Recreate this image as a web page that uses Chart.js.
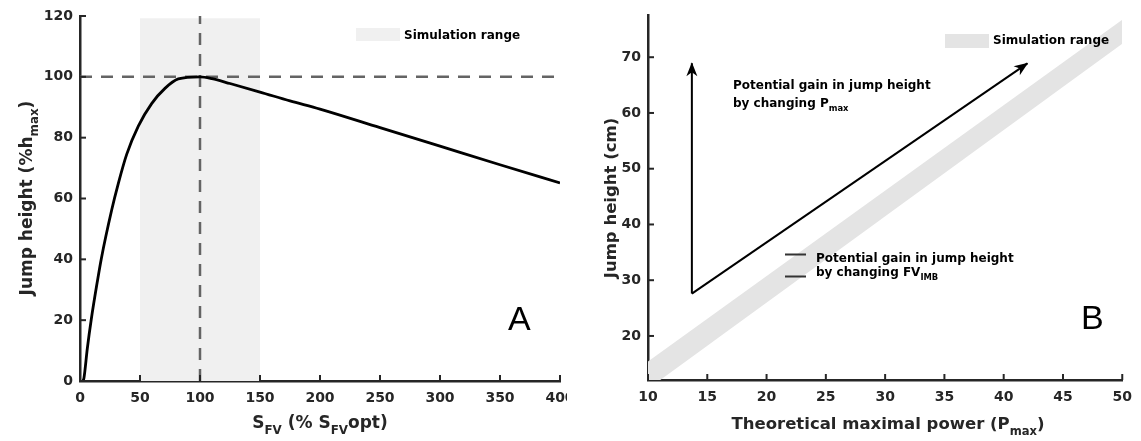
<!DOCTYPE html>
<html>
<head>
<meta charset="utf-8">
<script src="https://cdn.jsdelivr.net/npm/chart.js@4.4.1/dist/chart.umd.min.js"></script>
<style>
  body { margin: 0; background: #fff; width: 1141px; height: 441px; overflow: hidden; position: relative; }
  #boxA { position: absolute; left: 0; top: 0; }
  #boxB { position: absolute; left: 567px; top: 0; background: #fff; }
</style>
</head>
<body>
<div id="boxA"><canvas id="chartA" width="600" height="441"></canvas></div>
<div id="boxB"><canvas id="chartB" width="574" height="441"></canvas></div>
<script>
// ---- panel A: jump height vs S_FV ----
const sfvX    = [2.5, 3.3, 6.1, 9.4, 14.4, 17.8, 26.4, 31.9, 38.9, 48.6, 59.7, 70.8, 81.9, 100, 110, 125, 150, 175, 200, 250, 300, 350, 400];
const jumpPct = [0,   1,   10.7, 20.3, 32.6, 40.3, 56.2, 64.9, 74.5, 83.8, 91.2, 96.2, 99.3, 100, 99.4, 97.8, 95.0, 92.1, 89.4, 83.3, 77.2, 71.1, 65.1];
const simRangeA = [50, 150];
const simTopA = 119.3;
const optimumX = 100;
const hmaxPct = 100;
const xTicksA = [0, 50, 100, 150, 200, 250, 300, 350, 400];
const yTicksA = [0, 20, 40, 60, 80, 100, 120];

// ---- panel B: jump height vs Pmax ----
const bandX    = [10, 50];
const bandLow  = [10.5, 72.4];
const bandHigh = [15.4, 76.7];
const startPt  = [13.7, 27.6];
const pmaxArrowEnd = [13.7, 68.9];
const fvArrowEnd   = [42.0, 68.9];
const xTicksB = [10, 15, 20, 25, 30, 35, 40, 45, 50];
const yTicksB = [20, 30, 40, 50, 60, 70];

const FONT = "'DejaVu Sans', sans-serif";
const AXIS = '#262626';
Chart.defaults.font.family = FONT;

function richText(ctx, segs, x, y, size, align, color) {
    ctx.save();
    ctx.fillStyle = color || '#000';
    ctx.textBaseline = 'alphabetic';
    ctx.textAlign = 'left';
    const font = s => `bold ${s}px ${FONT}`;
    let w = 0;
    segs.forEach(([t, sub]) => { ctx.font = font(sub ? size * 0.7 : size); w += ctx.measureText(t).width; });
    let cx = align === 'center' ? x - w / 2 : x;
    segs.forEach(([t, sub]) => {
        ctx.font = font(sub ? size * 0.7 : size);
        ctx.fillText(t, cx, y + (sub ? size * 0.35 : 0));
        cx += ctx.measureText(t).width;
    });
    ctx.restore();
}

function vertText(ctx, segs, x, y, size) {
    ctx.save();
    ctx.translate(x, y);
    ctx.rotate(-Math.PI / 2);
    richText(ctx, segs, 0, 0, size, 'center', AXIS);
    ctx.restore();
}

// matlab-style ticks pointing into the plot
const innerTicks = {
    id: 'innerTicks',
    afterDraw(chart) {
        const ctx = chart.ctx;
        const {x, y} = chart.scales;
        ctx.save();
        ctx.strokeStyle = AXIS;
        ctx.lineWidth = 2;
        x.ticks.forEach(t => {
            const px = x.getPixelForValue(t.value);
            ctx.beginPath(); ctx.moveTo(px, x.top); ctx.lineTo(px, x.top - 6); ctx.stroke();
        });
        y.ticks.forEach(t => {
            const py = y.getPixelForValue(t.value);
            ctx.beginPath(); ctx.moveTo(y.right, py); ctx.lineTo(y.right + 6, py); ctx.stroke();
        });
        ctx.restore();
    }
};

const arrowHeads = {
    id: 'arrowHeads',
    afterDatasetsDraw(chart) {
        const ctx = chart.ctx;
        chart.data.datasets.forEach((ds, i) => {
            if (!ds.arrow) return;
            const pts = chart.getDatasetMeta(i).data;
            const a = pts[pts.length - 2], b = pts[pts.length - 1];
            const ang = Math.atan2(b.y - a.y, b.x - a.x);
            ctx.save();
            ctx.translate(b.x, b.y);
            ctx.rotate(ang);
            ctx.beginPath();
            ctx.moveTo(1, 0);
            ctx.lineTo(-13, -5.5);
            ctx.lineTo(-9, 0);
            ctx.lineTo(-13, 5.5);
            ctx.closePath();
            ctx.fillStyle = ds.borderColor;
            ctx.fill();
            ctx.restore();
        });
    }
};

function axisOpts(min, max, ticks, pos, size) {
    return {
        type: 'linear',
        position: pos,
        min: min, max: max,
        afterBuildTicks: s => { s.ticks = ticks.map(v => ({value: v})); },
        afterFit: s => { if (pos === 'left') s.width = size; else s.height = size; },
        grid: {display: false, drawTicks: false},
        border: {display: true, color: AXIS, width: 2.5},
        ticks: {
            color: AXIS,
            padding: pos === 'left' ? 7 : 9,
            maxRotation: 0,
            autoSkip: false,
            font: {family: FONT, weight: 'bold', size: 14}
        }
    };
}

const textA = {
    id: 'textA',
    afterDraw(chart) {
        const ctx = chart.ctx;
        richText(ctx, [['S', 0], ['FV', 1], [' (% S', 0], ['FV', 1], ['opt)', 0]], 320, 428, 17, 'center', AXIS);
        vertText(ctx, [['Jump height (%h', 0], ['max', 1], [')', 0]], 32, 198, 17);
        ctx.fillStyle = '#f0f0f0';
        ctx.fillRect(356, 28, 44, 13);
        richText(ctx, [['Simulation range', 0]], 404, 39, 12, 'left', '#000');
        ctx.save();
        ctx.fillStyle = '#000';
        ctx.font = `34px 'Liberation Sans', sans-serif`;
        ctx.fillText('A', 508, 330);
        ctx.restore();
    }
};

const textB = {
    id: 'textB',
    afterDraw(chart) {
        const ctx = chart.ctx;
        const ox = 567;
        richText(ctx, [['Theoretical maximal power (P', 0], ['max', 1], [')', 0]], 888 - ox, 429, 16.5, 'center', AXIS);
        vertText(ctx, [['Jump height (cm)', 0]], 616 - ox, 198, 16.5);
        ctx.fillStyle = '#e4e4e4';
        ctx.fillRect(945 - ox, 34, 44, 14);
        richText(ctx, [['Simulation range', 0]], 993 - ox, 44, 12, 'left', '#000');
        richText(ctx, [['Potential gain in jump height', 0]], 733 - ox, 89, 12, 'left', '#000');
        richText(ctx, [['by changing P', 0], ['max', 1]], 733 - ox, 107, 12, 'left', '#000');
        ctx.save();
        ctx.strokeStyle = '#333';
        ctx.lineWidth = 2;
        ctx.beginPath();
        ctx.moveTo(785 - ox, 254.5); ctx.lineTo(806 - ox, 254.5);
        ctx.moveTo(785 - ox, 276.5); ctx.lineTo(806 - ox, 276.5);
        ctx.stroke();
        ctx.restore();
        richText(ctx, [['Potential gain in jump height', 0]], 816 - ox, 262, 12, 'left', '#000');
        richText(ctx, [['by changing FV', 0], ['IMB', 1]], 816 - ox, 276, 12, 'left', '#000');
        ctx.save();
        ctx.fillStyle = '#000';
        ctx.font = `34px 'Liberation Sans', sans-serif`;
        ctx.fillText('B', 1081 - ox, 329);
        ctx.restore();
    }
};

const pts = (xs, ys) => xs.map((x, i) => ({x: x, y: ys[i]}));

new Chart(document.getElementById('chartA'), {
    type: 'line',
    data: {
        datasets: [
            {
                data: pts(sfvX, jumpPct),
                borderColor: '#000', borderWidth: 2.8,
                cubicInterpolationMode: 'monotone'
            },
            {
                data: [{x: optimumX, y: yTicksA[0]}, {x: optimumX, y: yTicksA[yTicksA.length - 1]}],
                borderColor: '#646464', borderWidth: 2.5, borderDash: [12, 9]
            },
            {
                data: [{x: xTicksA[0], y: hmaxPct}, {x: xTicksA[xTicksA.length - 1], y: hmaxPct}],
                borderColor: '#646464', borderWidth: 2.5, borderDash: [12, 9]
            },
            {
                data: [{x: simRangeA[0], y: simTopA}, {x: simRangeA[1], y: simTopA}],
                borderWidth: 0, borderColor: 'rgba(0,0,0,0)',
                backgroundColor: '#f0f0f0', fill: 'origin'
            }
        ]
    },
    options: {
        responsive: false,
        animation: false,
        events: [],
        layout: {padding: {top: 16, right: 40, left: 0, bottom: 0}},
        elements: {point: {radius: 0}},
        plugins: {legend: {display: false}, tooltip: {enabled: false}},
        scales: {
            x: axisOpts(0, 400, xTicksA, 'bottom', 60),
            y: axisOpts(0, 120, yTicksA, 'left', 80)
        }
    },
    plugins: [innerTicks, textA]
});

new Chart(document.getElementById('chartB'), {
    type: 'line',
    data: {
        datasets: [
            {
                data: [{x: startPt[0], y: startPt[1]}, {x: pmaxArrowEnd[0], y: pmaxArrowEnd[1]}],
                borderColor: '#000', borderWidth: 2, arrow: true
            },
            {
                data: [{x: startPt[0], y: startPt[1]}, {x: fvArrowEnd[0], y: fvArrowEnd[1]}],
                borderColor: '#000', borderWidth: 2, arrow: true
            },
            {
                data: pts(bandX, bandHigh),
                borderWidth: 0, borderColor: 'rgba(0,0,0,0)',
                backgroundColor: '#e4e4e4', fill: '+1'
            },
            {
                data: pts(bandX, bandLow),
                borderWidth: 0, borderColor: 'rgba(0,0,0,0)'
            }
        ]
    },
    options: {
        responsive: false,
        animation: false,
        events: [],
        layout: {padding: {top: 15, right: 13, left: 0, bottom: 0}},
        elements: {point: {radius: 0}},
        plugins: {legend: {display: false}, tooltip: {enabled: false}},
        scales: {
            x: axisOpts(10, 50, xTicksB, 'bottom', 61),
            y: axisOpts(12.1, 77.5, yTicksB, 'left', 81)
        }
    },
    plugins: [innerTicks, arrowHeads, textB]
});
</script>
</body>
</html>
